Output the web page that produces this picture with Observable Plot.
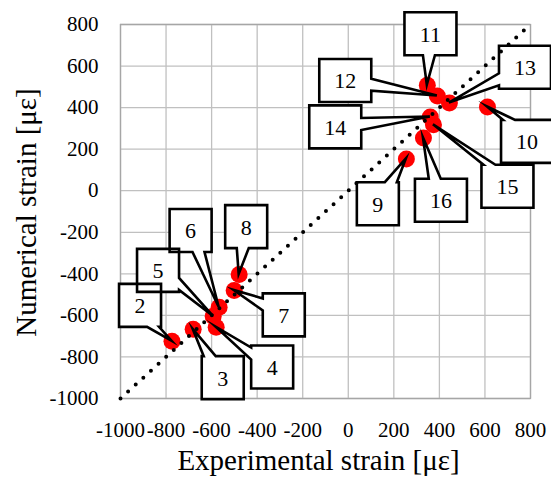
<!DOCTYPE html>
<html>
<head>
<meta charset="utf-8">
<script src="https://cdn.jsdelivr.net/npm/d3@7"></script>
<script src="https://cdn.jsdelivr.net/npm/@observablehq/plot@0.6"></script>
<style>
  html, body { margin: 0; padding: 0; background: white; }
</style>
</head>
<body>
<div id="chart"></div>
<script>
// Point labels (gauge numbers)
const labels = ["2", "3", "4", "5", "6", "7", "8", "9", "10", "11", "12", "13", "14", "15", "16"];
// Experimental strain [με]
const experimental = [-774, -681, -580, -593, -567, -501, -479, 255, 611, 347, 391, 444, 360, 374, 330];
// Numerical strain [με]
const numerical = [-724, -667, -657, -604, -561, -480, -403, 153, 403, 508, 456, 422, 355, 317, 254];
// Callout box anchors (data units)
const calloutX = [-912, -549, -332, -833, -690, -281, -446, 132, 787, 363, -11, 778, -55, 701, 409];
const calloutY = [-554, -902, -851, -386, -194, -600, -175, -65, 235, 753, 528, 592, 305, 19, -48];
// Axis ticks
const ticks = [-1000, -800, -600, -400, -200, 0, 200, 400, 600, 800];
// 1:1 reference line extent
const diagonal = [-1000, 800];

const data = labels.map((label, i) => ({
  label, x: experimental[i], y: numerical[i], bx: calloutX[i], by: calloutY[i]
}));

function calloutShape(d, x, y) {
  const cx = x(d.bx), cy = y(d.by);
  const w = d.label.length > 1 ? 52 : 42, h = 43;
  const tx = x(d.x), ty = y(d.y);
  const x0 = cx - w / 2, x1 = cx + w / 2, y0 = cy - h / 2, y1 = cy + h / 2;
  const dx = tx - cx, dy = ty - cy;
  const sx = (w / 2) / Math.abs(dx || 1e-9), sy = (h / 2) / Math.abs(dy || 1e-9);
  const hw = 6;
  const clamp = (v, a, b) => Math.max(a, Math.min(b, v));
  let pts;
  if (sx < sy) {
    const ey = clamp(cy + dy * sx, y0 + hw + 2, y1 - hw - 2);
    if (dx > 0) pts = [[x0, y0], [x1, y0], [x1, ey - hw], [tx, ty], [x1, ey + hw], [x1, y1], [x0, y1]];
    else pts = [[x0, y0], [x1, y0], [x1, y1], [x0, y1], [x0, ey + hw], [tx, ty], [x0, ey - hw]];
  } else {
    const ex = clamp(cx + dx * sy, x0 + hw + 2, x1 - hw - 2);
    if (dy > 0) pts = [[x0, y0], [x1, y0], [x1, y1], [ex + hw, y1], [tx, ty], [ex - hw, y1], [x0, y1]];
    else pts = [[x0, y0], [ex - hw, y0], [tx, ty], [ex + hw, y0], [x1, y0], [x1, y1], [x0, y1]];
  }
  return {d: "M" + pts.map(p => p.join(",")).join("L") + "Z", cx, cy};
}

function calloutFills(index, scales) {
  const g = d3.create("svg:g");
  data.forEach(d => {
    const s = calloutShape(d, scales.x, scales.y);
    g.append("path").attr("d", s.d).attr("fill", "white").attr("stroke", "none");
  });
  return g.node();
}

function calloutStrokes(index, scales) {
  const g = d3.create("svg:g");
  data.forEach(d => {
    const s = calloutShape(d, scales.x, scales.y);
    g.append("path").attr("d", s.d).attr("fill", "none").attr("stroke", "black")
      .attr("stroke-width", 2.6).attr("stroke-linejoin", "miter").attr("stroke-miterlimit", 10);
    g.append("text").attr("x", s.cx).attr("y", s.cy).attr("dy", "0.36em")
      .attr("text-anchor", "middle").attr("font-size", 22).attr("fill", "black")
      .attr("font-family", "Liberation Serif, Times New Roman, serif").text(d.label);
  });
  return g.node();
}

const chart = Plot.plot({
  width: 551,
  height: 484,
  marginLeft: 120,
  marginRight: 21,
  marginTop: 24,
  marginBottom: 86,
  style: {fontFamily: "Liberation Serif, Times New Roman, serif", fontSize: "21px", background: "white", color: "black"},
  x: {domain: [-1000, 800], ticks: ticks, tickSize: 0, tickPadding: 24, tickFormat: d => String(d), label: null},
  y: {domain: [-1000, 800], ticks: ticks, tickSize: 0, tickPadding: 22, tickFormat: d => String(d), label: null},
  marks: [
    Plot.ruleX(ticks, {stroke: "#c0c0c0", strokeWidth: 1.3}),
    Plot.ruleY(ticks, {stroke: "#c0c0c0", strokeWidth: 1.3}),
    Plot.frame({stroke: "#a6a6a6", strokeWidth: 1.3}),
    calloutFills,
    Plot.dot(data, {x: "x", y: "y", r: 8.5, fill: "#ff0000", stroke: "none"}),
    Plot.line(diagonal, {x: d => d, y: d => d, stroke: "black", strokeWidth: 4, strokeDasharray: "0,10.3", strokeLinecap: "round"}),
    calloutStrokes,
    Plot.text(["Experimental strain [με]"], {frameAnchor: "bottom", textAnchor: "middle", dx: -7, dy: 71, fontSize: 29, fill: "black"}),
    Plot.text(["Numerical strain [με]"], {frameAnchor: "left", textAnchor: "middle", dx: -94, dy: 1, rotate: -90, fontSize: 29, fill: "black"})
  ]
});
document.getElementById("chart").appendChild(chart);
</script>
</body>
</html>
